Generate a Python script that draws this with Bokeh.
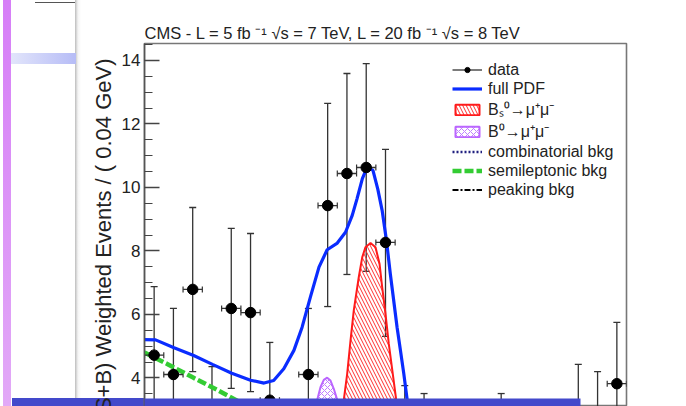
import numpy as np
from bokeh.plotting import figure
from bokeh.models import (ColumnDataSource, Whisker, TeeHead, Legend, LegendItem,
                          SingleIntervalTicker, Title, BoxAnnotation, Range1d)
from bokeh.embed import file_html
from bokeh.resources import INLINE

# ---------------- data ----------------
bin_centers = [4.92, 4.96, 5.00, 5.04, 5.08, 5.12, 5.16, 5.20, 5.24, 5.28,
               5.32, 5.36, 5.40, 5.44, 5.48, 5.52, 5.56, 5.60, 5.64, 5.68,
               5.72, 5.76, 5.80, 5.84, 5.88]
bin_half_width = 0.02
data_y = [4.72, 4.11, 6.79, 2.20, 6.19, 6.06, 3.30, 1.20, 4.11, 9.43,
          10.44, 10.63, 8.27, 1.90, 1.70, 0.90, 0.80, 1.00, 1.70, 0.90,
          1.00, 1.10, 2.40, 2.20, 3.82]
err_up = [2.16, 2.08, 2.58, 2.16, 2.52, 2.49, 1.82, 1.60, 2.08, 3.22,
          3.15, 3.27, 2.93, 1.86, 1.81, 1.50, 1.40, 1.50, 1.81, 1.50,
          1.50, 1.60, 2.03, 2.00, 1.93]
err_dn = [2.10, 2.00, 2.59, 1.80, 2.52, 2.49, 1.80, 1.10, 2.08, 3.18,
          3.18, 3.27, 2.96, 1.60, 1.50, 0.85, 0.75, 0.95, 1.50, 0.85,
          0.95, 1.00, 1.90, 1.80, 1.93]

pdf_mass = [4.900, 4.923, 4.960, 5.002, 5.041, 5.081, 5.120, 5.148, 5.168, 5.189,
            5.210, 5.227, 5.244, 5.262, 5.279, 5.300, 5.317, 5.331, 5.341, 5.352,
            5.362, 5.374, 5.384, 5.393, 5.402, 5.410, 5.417, 5.424, 5.431, 5.438,
            5.445, 5.460, 5.480, 5.500, 5.550, 5.600, 5.700, 5.800, 5.900]
pdf_y = [5.21, 5.20, 4.96, 4.71, 4.43, 4.15, 3.93, 3.84, 3.92, 4.29,
         4.87, 5.60, 6.54, 7.49, 8.04, 8.25, 8.59, 9.12, 9.65, 10.28,
         10.64, 10.54, 9.95, 9.28, 8.33, 7.28, 6.44, 5.60, 4.87, 4.13,
         3.31, 2.20, 1.30, 0.90, 0.70, 0.65, 0.62, 0.60, 0.58]

bs_mass = [5.260, 5.290, 5.3135, 5.3205, 5.3274, 5.3342, 5.3446, 5.3517, 5.3585, 5.3689,
           5.3793, 5.3876, 5.3931, 5.4000, 5.4068, 5.4151, 5.4222, 5.450, 5.480]
bs_y = [0.30, 1.20, 3.31, 4.13, 5.18, 6.13, 7.18, 7.80, 8.12, 8.25,
        8.12, 7.60, 6.86, 6.02, 5.08, 4.13, 3.31, 1.10, 0.25]

b0_mass = [5.200, 5.230, 5.2583, 5.2651, 5.2720, 5.2790, 5.2859, 5.2927, 5.2998, 5.330, 5.370]
b0_y = [0.30, 1.40, 3.31, 3.71, 3.94, 4.01, 3.92, 3.66, 3.31, 1.30, 0.30]

semi_mass = [4.90, 4.95, 5.00, 5.05, 5.10, 5.15, 5.20, 5.25, 5.30, 5.35, 5.40, 5.45]
semi_y = [4.80, 4.42, 4.02, 3.63, 3.22, 2.80, 2.30, 1.70, 1.10, 0.60, 0.30, 0.10]

comb_mass = [4.90, 5.10, 5.30, 5.50, 5.70, 5.90]
comb_y = [0.45, 0.48, 0.51, 0.53, 0.55, 0.57]

peak_mass = [4.90, 5.10, 5.20, 5.25, 5.30, 5.40, 5.90]
peak_y = [0.02, 0.06, 0.12, 0.15, 0.10, 0.03, 0.00]

title_text = "CMS - L = 5 fb \u207b\u00b9  \u221as = 7 TeV, L = 20 fb \u207b\u00b9  \u221as = 8 TeV"
y_label = "S/(S+B) Weighted Events / ( 0.04 GeV)"
legend_labels = ["data", "full PDF", "B\u209b\u2070\u2192\u03bc\u207a\u03bc\u207b",
                 "B\u2070\u2192\u03bc\u207a\u03bc\u207b", "combinatorial bkg",
                 "semileptonic bkg", "peaking bkg"]

FONT = "Liberation Sans"

# slide decorations behind the (transparent) border area of the canvas
slide_css = ", ".join([
    "linear-gradient(#4349cb, #4349cb) 12px 398px / 568px 8px no-repeat",
    "linear-gradient(to bottom, #d67ef7, #e2a9f7) 3px 0px / 8px 406px no-repeat",
    "linear-gradient(to right, #e2e5fb, #b6bcf6) 11px 53px / 65px 11px no-repeat",
    "linear-gradient(to right, #bcbcbc, #f4f4f4, #ffffff) 75px 0px / 6px 406px no-repeat",
    "linear-gradient(#555555, #555555) 35px 2px / 41px 1px no-repeat",
    "linear-gradient(#ffffff, #ffffff)",
])

# ---------------- figure ----------------
p = figure(width=686, height=406,
           x_range=Range1d(4.9, 5.9), y_range=Range1d(3.102, 14.535),
           output_backend="svg", toolbar_location=None, x_axis_location=None,
           min_border_left=144, min_border_right=60, min_border_top=43, min_border_bottom=0)
p.styles = {"background": slide_css}
p.background_fill_color = "white"
p.border_fill_alpha = 0
p.outline_line_color = "#777777"
p.outline_line_width = 1.6
p.xgrid.visible = False
p.ygrid.visible = False

yax = p.yaxis[0]
yax.ticker = SingleIntervalTicker(interval=2, num_minor_ticks=4)
yax.major_tick_in = 15
yax.major_tick_out = 0
yax.minor_tick_in = 8
yax.minor_tick_out = 0
yax.axis_line_color = "#555555"
yax.axis_line_width = 1.5
yax.major_tick_line_color = "#444444"
yax.minor_tick_line_color = "#444444"
yax.major_tick_line_width = 1.3
yax.minor_tick_line_width = 1.1
yax.major_label_text_font = FONT
yax.major_label_text_font_size = "17px"
yax.major_label_text_color = "#222222"
yax.major_label_standoff = 4

p.title.text = title_text
p.title.text_font = FONT
p.title.text_font_style = "normal"
p.title.text_font_size = "16.5px"
p.title.text_color = "#222222"
p.title.align = "left"
p.title.standoff = 3

ytitle = Title(text=y_label, align="right", offset=15, standoff=5, text_font=FONT,
               text_font_style="normal", text_font_size="22px", text_color="#222222")
p.add_layout(ytitle, "left")

# ---------------- components ----------------
bs_src = ColumnDataSource(dict(x=bs_mass, y=bs_y))
b0_src = ColumnDataSource(dict(x=b0_mass, y=b0_y))

bs_r = p.patch("x", "y", source=bs_src, fill_alpha=0, line_color="#ff1a1a", line_width=2,
               hatch_pattern="\\", hatch_color="#ff3030", hatch_scale=7, hatch_weight=1)
b0_r = p.patch("x", "y", source=b0_src, fill_alpha=0, line_color="#bb66ff", line_width=2,
               hatch_pattern="x", hatch_color="#c080ff", hatch_scale=6, hatch_weight=1)

comb_r = p.line(comb_mass, comb_y, line_color="#202080", line_width=2.5, line_dash="2 2")
peak_r = p.line(peak_mass, peak_y, line_color="black", line_width=2, line_dash="6 2 2 2")
semi_r = p.line(semi_mass, semi_y, line_color="#33cc33", line_width=4.5, line_dash="9 3")
pdf_r = p.line(pdf_mass, pdf_y, line_color="#0a2cff", line_width=3.2)

# ---------------- data points ----------------
c = np.array(bin_centers)
yv = np.array(data_y)
dsrc = ColumnDataSource(dict(x=c, y=yv, up=yv + np.array(err_up), dn=yv - np.array(err_dn),
                             xl=c - bin_half_width, xr=c + bin_half_width))

vw = Whisker(base="x", upper="up", lower="dn", source=dsrc, dimension="height",
             line_color="#333333", line_width=1.3,
             upper_head=TeeHead(size=7, line_color="#333333", line_width=1.3),
             lower_head=TeeHead(size=7, line_color="#333333", line_width=1.3))
p.add_layout(vw)
hw = Whisker(base="y", upper="xr", lower="xl", source=dsrc, dimension="width",
             line_alpha=0,
             upper_head=TeeHead(size=6, line_color="#333333", line_width=1.2),
             lower_head=TeeHead(size=6, line_color="#333333", line_width=1.2))
p.add_layout(hw)
hseg_r = p.segment(x0="xl", y0="y", x1="xr", y1="y", source=dsrc, line_color="#333333", line_width=1.3)
pts_r = p.scatter("x", "y", source=dsrc, marker="circle", size=10.5, fill_color="black", line_color="black")

# ---------------- legend ----------------
items = [
    LegendItem(label=legend_labels[0], renderers=[hseg_r, pts_r]),
    LegendItem(label=legend_labels[1], renderers=[pdf_r]),
    LegendItem(label=legend_labels[2], renderers=[bs_r]),
    LegendItem(label=legend_labels[3], renderers=[b0_r]),
    LegendItem(label=legend_labels[4], renderers=[comb_r]),
    LegendItem(label=legend_labels[5], renderers=[semi_r]),
    LegendItem(label=legend_labels[6], renderers=[peak_r]),
]
legend = Legend(items=items, location=(308, 207), border_line_alpha=0, background_fill_alpha=0,
                padding=0, margin=0, spacing=0, glyph_width=30, glyph_height=13,
                label_height=19, label_standoff=6, label_text_font=FONT,
                label_text_font_size="16px", label_text_color="#222222")
p.add_layout(legend)

# slide bar lying over the bottom of the plot
p.add_layout(BoxAnnotation(left=12, right=580, top=398, bottom=406, left_units="canvas",
                           right_units="canvas", top_units="canvas", bottom_units="canvas",
                           fill_color="#4349cb", fill_alpha=1, line_alpha=0, level="overlay"))

open("out.html", "w").write(file_html(p, INLINE))
